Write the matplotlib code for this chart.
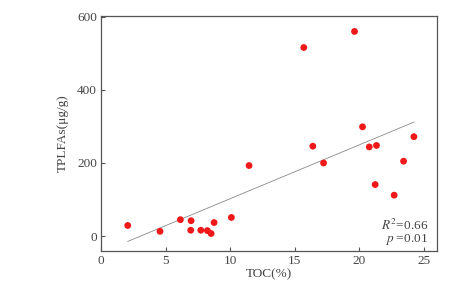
import matplotlib
matplotlib.use('Agg')
import matplotlib.pyplot as plt
import numpy as np

# TOC (%) vs TPLFAs (ug/g)
toc = [2.07, 4.57, 6.15, 6.98, 6.95, 7.73, 8.24, 8.53, 8.76, 10.1, 11.47,
       15.71, 16.41, 17.24, 19.64, 20.26, 20.78, 21.34, 21.24, 22.71, 23.44, 24.24]
tplfa = [29, 13, 45, 42, 16, 16, 15, 7, 37, 51, 193,
         516, 246, 200, 560, 299, 244, 248, 141, 112, 205, 272]

# regression line as drawn (slope, intercept, x span)
fit_slope = 14.73
fit_icpt = -45.1
fit_x = [2.07, 24.24]

plt.rcParams['font.family'] = ['Liberation Serif', 'DejaVu Serif']
plt.rcParams['mathtext.fontset'] = 'stix'
txt = '#444444'
fs = 9.5

fig = plt.figure(figsize=(4.64, 2.87), dpi=100)
ax = fig.add_axes([0.2177, 0.1265, 0.7233, 0.8187])

fx = np.array(fit_x)
ax.plot(fx, fit_slope * fx + fit_icpt, color='#8a8a8a', linewidth=0.6, zorder=1)
ax.scatter(toc, tplfa, s=24, color='#f01818', edgecolors='none', zorder=2)

ax.set_xlim(0, 26)
ax.set_ylim(-40, 603)
ax.set_xticks([0, 5, 10, 15, 20, 25])
ax.set_yticks([0, 200, 400, 600])
ax.tick_params(direction='in', length=3, width=0.8, color='#555555',
               labelsize=fs, labelcolor=txt, pad=3)
for s in ax.spines.values():
    s.set_color('#555555')
    s.set_linewidth(0.9)

ax.set_xlabel('TOC(%)', fontsize=fs, color=txt, labelpad=1)
ax.set_ylabel('TPLFAs(μg/g)', fontsize=fs, color=txt, labelpad=6)

ax.text(0.975, 0.075, r'$R^2$=0.66', transform=ax.transAxes,
        ha='right', va='bottom', fontsize=fs, color=txt)
ax.text(0.975, 0.015, r'$p$ =0.01', transform=ax.transAxes,
        ha='right', va='bottom', fontsize=fs, color=txt)

plt.savefig('out.png', dpi=100)
plt.close()
